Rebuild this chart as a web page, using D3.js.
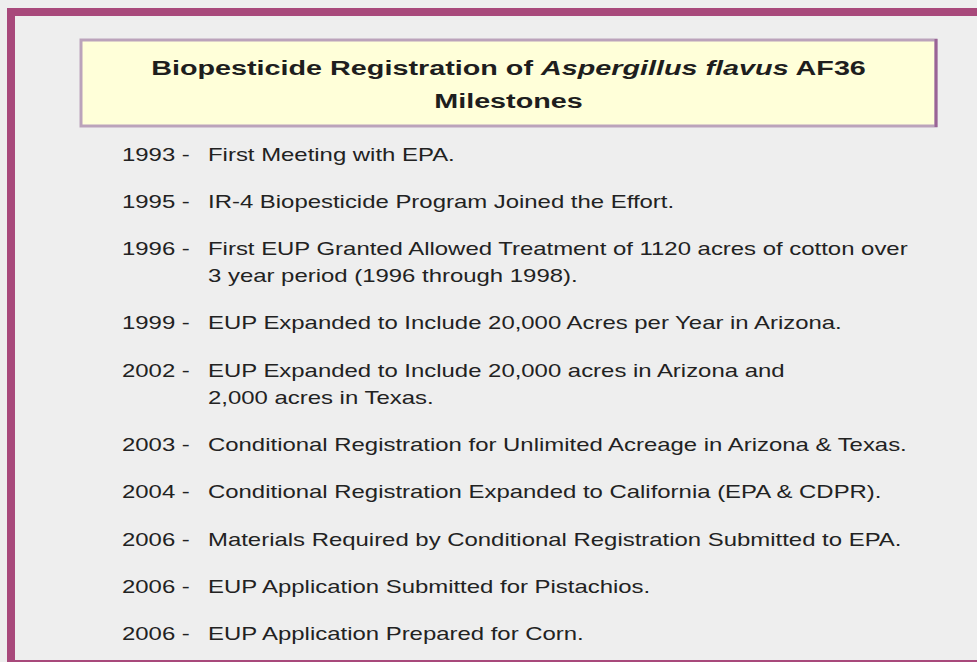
<!DOCTYPE html>
<html>
<head>
<meta charset="utf-8">
<script src="https://cdn.jsdelivr.net/npm/d3@7"></script>
<style>
  html, body { margin: 0; padding: 0; background: #eeeeee; }
  svg { display: block; font-family: "Liberation Sans", Arial, sans-serif; }
</style>
</head>
<body>
<div id="chart"></div>
<script>
// milestone data
var years = ['1993', '1995', '1996', '1999', '2002', '2003', '2004', '2006', '2006', '2006'];
var events = [
  ['First Meeting with EPA.'],
  ['IR-4 Biopesticide Program Joined the Effort.'],
  ['First EUP Granted Allowed Treatment of 1120 acres of cotton over', '3 year period (1996 through 1998).'],
  ['EUP Expanded to Include 20,000 Acres per Year in Arizona.'],
  ['EUP Expanded to Include 20,000 acres in Arizona and', '2,000 acres in Texas.'],
  ['Conditional Registration for Unlimited Acreage in Arizona & Texas.'],
  ['Conditional Registration Expanded to California (EPA & CDPR).'],
  ['Materials Required by Conditional Registration Submitted to EPA.'],
  ['EUP Application Submitted for Pistachios.'],
  ['EUP Application Prepared for Corn.']
];
var titleParts = [
  { text: 'Biopesticide Registration of ', italic: false },
  { text: 'Aspergillus flavus', italic: true },
  { text: ' AF36', italic: false }
];
var titleLine2 = 'Milestones';

var width = 977, height = 662;
var maroon = '#a8497b';
// the source slide is stretched sideways
var sxBody = 1.33, sxTitle = 1.37;

var svg = d3.select('#chart').append('svg')
  .attr('width', width)
  .attr('height', height);

svg.append('rect').attr('width', width).attr('height', height).attr('fill', '#eeeeee');

// frame
svg.append('rect').attr('x', 7).attr('y', 8).attr('width', width - 7).attr('height', 8).attr('fill', maroon);
svg.append('rect').attr('x', 7).attr('y', 8).attr('width', 8).attr('height', height - 8).attr('fill', maroon);
svg.append('rect').attr('x', 7).attr('y', 660).attr('width', width - 7).attr('height', 2).attr('fill', maroon);

// title box
var box = { x: 81, y: 40, w: 855, h: 86 };
svg.append('rect')
  .attr('x', box.x).attr('y', box.y).attr('width', box.w).attr('height', box.h)
  .attr('fill', '#ffffd9')
  .attr('stroke', '#bba3bb')
  .attr('stroke-width', 3);
svg.append('line')
  .attr('x1', box.x + box.w).attr('x2', box.x + box.w)
  .attr('y1', box.y - 1).attr('y2', box.y + box.h + 1)
  .attr('stroke', '#9a6496').attr('stroke-width', 3);

var cx = box.x + box.w / 2;
var title = svg.append('text')
  .attr('transform', 'translate(' + cx + ',75) scale(' + sxTitle + ',1)')
  .attr('text-anchor', 'middle')
  .attr('font-size', 21)
  .attr('font-weight', 'bold')
  .attr('fill', '#1e1e1e');
title.selectAll('tspan').data(titleParts).enter().append('tspan')
  .attr('font-style', function (d) { return d.italic ? 'italic' : 'normal'; })
  .text(function (d) { return d.text; });

svg.append('text')
  .attr('transform', 'translate(' + cx + ',108) scale(' + sxTitle + ',1)')
  .attr('text-anchor', 'middle')
  .attr('font-size', 21)
  .attr('font-weight', 'bold')
  .attr('fill', '#1e1e1e')
  .text(titleLine2);

// vertical layout: one unit per item, continuation lines add a fraction
var contStep = 27 / 47.3;
var pos = [];
var acc = 0;
events.forEach(function (lines) {
  pos.push(acc);
  acc += 1 + (lines.length - 1) * contStep;
});

var y = d3.scaleLinear().domain([0, 1]).range([160.5, 207.8]);

var rows = svg.selectAll('g.item').data(years).enter().append('g')
  .attr('class', 'item')
  .attr('transform', function (d, i) { return 'translate(0,' + y(pos[i]) + ')'; });

rows.append('text')
  .attr('transform', 'translate(122,0) scale(' + sxBody + ',1)')
  .attr('font-size', 18)
  .attr('fill', '#222222')
  .text(function (d) { return d + ' -'; });

rows.append('text')
  .attr('transform', 'translate(208,0) scale(' + sxBody + ',1)')
  .attr('font-size', 18)
  .attr('fill', '#222222')
  .selectAll('tspan')
  .data(function (d, i) { return events[i]; })
  .enter().append('tspan')
  .attr('x', 0)
  .attr('dy', function (d, j) { return j === 0 ? 0 : 27; })
  .text(function (d) { return d; });
</script>
</body>
</html>
